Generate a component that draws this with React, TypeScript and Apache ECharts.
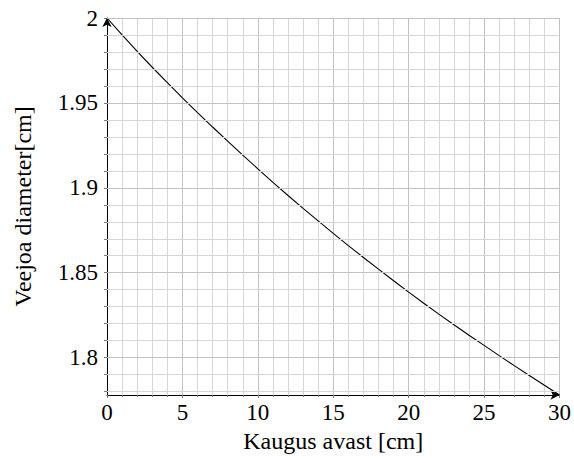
import React, { useEffect, useRef } from "react";
import * as echarts from "echarts";

const distances = [0, 1, 2, 3, 4, 5, 6, 7, 8, 9, 10, 11, 12, 13, 14, 15, 16, 17, 18, 19, 20, 21, 22, 23, 24, 25, 26, 27, 28, 29, 30];
const diameters = [2.0, 1.9901, 1.9804, 1.971, 1.9619, 1.953, 1.9443, 1.9358, 1.9275, 1.9193, 1.9112, 1.9032, 1.8955, 1.8879, 1.8805, 1.8732, 1.866, 1.859, 1.8521, 1.8453, 1.8386, 1.832, 1.8256, 1.8194, 1.8132, 1.8072, 1.8012, 1.7953, 1.7895, 1.7837, 1.778];
const yLabelTicks = [1.8, 1.85, 1.9, 1.95, 2.0];
const yMinorTicks = [1.78, 1.79, 1.8, 1.81, 1.82, 1.83, 1.84, 1.85, 1.86, 1.87, 1.88, 1.89, 1.9, 1.91, 1.92, 1.93, 1.94, 1.95, 1.96, 1.97, 1.98, 1.99, 2.0];

const FONT = "Liberation Serif";

export default function App() {
  const ref = useRef<HTMLDivElement>(null);
  useEffect(() => {
    if (!ref.current) return;
    const chart = echarts.init(ref.current, undefined, { renderer: "svg" });
    const majorSet = new Set(yLabelTicks.map((v) => v.toFixed(2)));
    chart.setOption({
      animation: false,
      backgroundColor: "#ffffff",
      textStyle: { fontFamily: FONT },
      grid: { left: 107, right: 13, top: 18, bottom: 68 },
      xAxis: {
        type: "value",
        min: 0,
        max: 30,
        interval: 5,
        name: "Kaugus avast [cm]",
        nameLocation: "middle",
        nameGap: 32,
        nameTextStyle: { fontFamily: FONT, fontSize: 24, color: "#000" },
        axisLine: {
          show: true,
          lineStyle: { color: "#000", width: 1 },
          symbol: ["none", "arrow"],
          symbolSize: [7, 9],
        },
        axisTick: { show: true, length: 3, lineStyle: { color: "#777" } },
        minorTick: { show: true, splitNumber: 5, length: 2, lineStyle: { color: "#777" } },
        axisLabel: { fontFamily: FONT, fontSize: 23, color: "#000", margin: 6 },
        splitLine: { show: true, lineStyle: { color: "#c2c2c2", width: 1 } },
        minorSplitLine: { show: true, lineStyle: { color: "#d6d6d6", width: 1 } },
      },
      yAxis: {
        type: "value",
        min: 1.778,
        max: 2.0,
        name: "Veejoa diameter[cm]",
        nameLocation: "middle",
        nameGap: 72,
        nameTextStyle: { fontFamily: FONT, fontSize: 24, color: "#000" },
        axisLine: {
          show: true,
          lineStyle: { color: "#000", width: 1 },
          symbol: ["none", "arrow"],
          symbolSize: [7, 9],
        },
        axisTick: { show: true, length: 3, customValues: yMinorTicks, lineStyle: { color: "#777" } },
        axisLabel: {
          fontFamily: FONT,
          fontSize: 23,
          color: "#000",
          margin: 9,
          customValues: yLabelTicks,
          formatter: (v: number) => String(Number(v.toFixed(2))),
        },
        splitLine: { show: false },
      },
      series: [
        {
          type: "scatter",
          z: 1,
          silent: true,
          symbolSize: 0,
          data: [[0, 2]],
          markLine: {
            silent: true,
            symbol: ["none", "none"],
            label: { show: false },
            animation: false,
            data: yMinorTicks.map((v) => ({
              yAxis: v,
              lineStyle: {
                color: majorSet.has(v.toFixed(2)) ? "#c2c2c2" : "#d6d6d6",
                type: "solid",
                width: 1,
              },
            })),
          },
        },
        {
          type: "line",
          z: 3,
          data: distances.map((d, i) => [d, diameters[i]]),
          showSymbol: false,
          smooth: false,
          lineStyle: { color: "#000", width: 1.1 },
        },
      ],
    });
    return () => chart.dispose();
  }, []);
  return (
    <div
      ref={ref}
      style={{ position: "absolute", left: 0, top: 0, width: 574, height: 463 }}
    />
  );
}
